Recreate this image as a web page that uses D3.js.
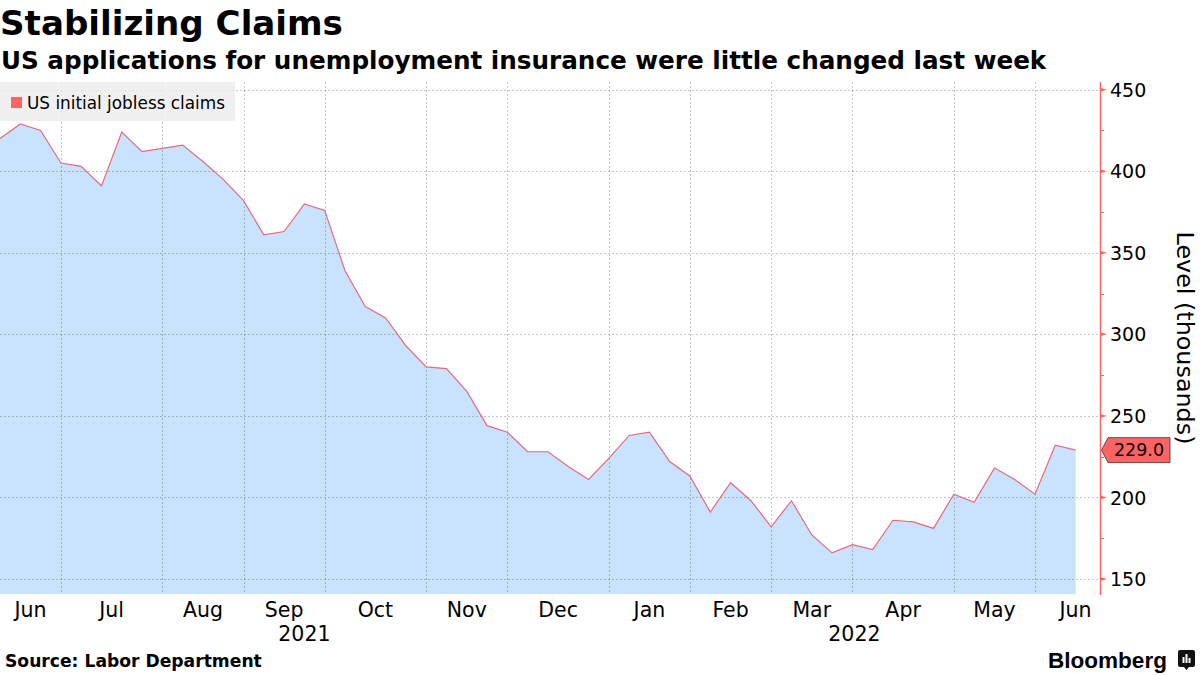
<!DOCTYPE html>
<html><head><meta charset="utf-8">
<script src="https://cdn.jsdelivr.net/npm/d3@7"></script>
<style>
body{margin:0;background:#fff}
svg{display:block}
text{font-family:"DejaVu Sans",sans-serif;fill:#000}
</style>
</head><body>
<svg id="c" width="1200" height="675"></svg>
<script>
// ---- data ----
const titleText = "Stabilizing Claims";
const subtitleText = "US applications for unemployment insurance were little changed last week";
const seriesName = "US initial jobless claims";
const sourceText = "Source: Labor Department";
const axisTitle = "Level (thousands)";
const firstWeek = "2021-06-11";
const lastWeek = "2022-06-17";
// weekly initial claims, thousands
const claims = [420,429,425,405,403,391,424,412,414,416,
                406,395,382,361,363,380,376,339,317,310,
                293,280,279,265,244,240,228,228,219,211,
                224,238,240,222,213,191,209,198,182,198,
                177,166,171,168,186,185,181,202,197,218,
                211,202,232,229];
const monthStarts = ["2021-06-04","2021-07-02","2021-08-06","2021-09-03","2021-10-01","2021-11-05",
                     "2021-12-03","2022-01-07","2022-02-04","2022-03-04","2022-04-01","2022-05-06",
                     "2022-06-03","2022-07-01"];
const yearStarts = ["2021-01-01","2022-01-07"];
const yearLabels = ["2021","2022"];
const yTicks = [150,200,250,300,350,400,450];
const yMinorTicks = [175,225,275,325,375,425];

// ---- setup ----
const parse = d3.timeParse("%Y-%m-%d");
const weeks = d3.timeFriday.range(parse(firstWeek), d3.timeDay.offset(parse(lastWeek), 1));
const data = weeks.map((d, i) => ({date: d, value: claims[i]}));
const months = monthStarts.map(parse);

const svg = d3.select("#c");
const plotL = 0, plotR = 1100, plotT = 82, plotB = 594;
const x = d3.scaleTime().domain([parse(firstWeek), parse(lastWeek)]).range([0, 1075.6]);
const y = d3.scaleLinear().domain([140.8, 454.7]).range([plotB, plotT]);

const RED = "#ff6464";

function fit(sel, target) {
  const n = sel.node();
  const fs = parseFloat(sel.attr("font-size"));
  const w = n.getComputedTextLength();
  sel.attr("font-size", (fs * target / w).toFixed(2));
}

// area
svg.append("path").datum(data)
  .attr("fill", "#c9e2fd")
  .attr("d", d3.area().x(d => x(d.date)).y0(plotB).y1(d => y(d.value)));

// grid
const grid = svg.append("g").attr("stroke", "rgba(0,0,0,0.22)").attr("stroke-dasharray", "2,2").attr("stroke-width", 1);
grid.selectAll("line.h").data(yTicks).join("line")
  .attr("x1", plotL).attr("x2", plotR)
  .attr("y1", d => Math.round(y(d)) + 0.5).attr("y2", d => Math.round(y(d)) + 0.5);
const gridMonths = months.filter(m => m >= x.domain()[0] && m <= x.domain()[1]);
grid.selectAll("line.v").data(gridMonths).join("line")
  .attr("x1", d => Math.round(x(d)) + 0.5).attr("x2", d => Math.round(x(d)) + 0.5)
  .attr("y1", plotT).attr("y2", plotB);

// line
svg.append("path").datum(data)
  .attr("fill", "none").attr("stroke", "#e8697b").attr("stroke-width", 1.2)
  .attr("d", d3.line().x(d => x(d.date)).y(d => y(d.value)));

// legend
svg.append("rect").attr("x", 0).attr("y", 82).attr("width", 235).attr("height", 39)
  .attr("fill", "rgba(236,236,236,0.8)");
svg.append("rect").attr("x", 11).attr("y", 97).attr("width", 11).attr("height", 11).attr("fill", RED);
const lg = svg.append("text").attr("x", 27).attr("y", 108.5).attr("font-size", 16.5).attr("fill", "#222").text(seriesName);
fit(lg, 198);

// right axis
const yAxis = d3.axisRight(y).tickValues(yTicks).tickSize(0).tickPadding(10).tickFormat(d3.format("d"));
const ga = svg.append("g").attr("transform", `translate(${plotR},0)`).call(yAxis);
ga.select(".domain").remove();
ga.selectAll("text").attr("font-size", 19).attr("font-family", '"DejaVu Sans",sans-serif').attr("fill", "#000").attr("dy", "0.35em");
svg.append("line").attr("x1", plotR + 0.5).attr("x2", plotR + 0.5).attr("y1", plotT).attr("y2", plotB + 1)
  .attr("stroke", RED).attr("stroke-width", 1.5);
svg.append("g").selectAll("path").data(yTicks).join("path")
  .attr("fill", RED)
  .attr("d", d => { const yy = y(d); return `M${plotR},${yy - 2}L${plotR + 7},${yy}L${plotR},${yy + 2}Z`; });
svg.append("g").selectAll("line").data(yMinorTicks).join("line")
  .attr("stroke", RED).attr("stroke-width", 1)
  .attr("x1", plotR).attr("x2", plotR + 4)
  .attr("y1", d => Math.round(y(d)) + 0.5).attr("y2", d => Math.round(y(d)) + 0.5);

// axis title
const at = svg.append("text").attr("font-size", 23).attr("text-anchor", "middle")
  .attr("transform", `translate(1177,338) rotate(90)`).text(axisTitle);
fit(at, 213);

// last value tag
const last = data[data.length - 1];
const ty = y(last.value);
svg.append("path")
  .attr("d", `M${plotR + 1.5},${ty}L${plotR + 8},${ty - 12.5}L1170,${ty - 12.5}L1170,${ty + 12.5}L${plotR + 8},${ty + 12.5}Z`)
  .attr("fill", RED).attr("stroke", "#333").attr("stroke-width", 0.8);
svg.append("text").attr("x", 1139).attr("y", ty).attr("dy", "0.36em").attr("text-anchor", "middle")
  .attr("font-size", 17.5).text(d3.format(".1f")(last.value));

// x month labels
const fmtMonth = d3.timeFormat("%b");
const labelMonths = months.slice(0, -1).map((m, i) => ({
  name: fmtMonth(m),
  cx: (Math.max(0, x(m)) + x(months[i + 1])) / 2
}));
svg.append("g").selectAll("text").data(labelMonths).join("text")
  .attr("x", d => d.cx).attr("y", 617).attr("text-anchor", "middle").attr("font-size", 20.5)
  .text(d => d.name);
const yr = yearStarts.map(parse);
svg.append("g").selectAll("text").data(yearLabels).join("text")
  .attr("x", (d, i) => (Math.max(0, x(yr[i])) + (i + 1 < yr.length ? x(yr[i + 1]) : plotR)) / 2)
  .attr("y", 641).attr("text-anchor", "middle").attr("font-size", 20.5)
  .text(d => d);

// titles
const t1 = svg.append("text").attr("x", 0).attr("y", 35).attr("font-size", 34).attr("font-weight", "bold").text(titleText);
fit(t1, 343);
const t2 = svg.append("text").attr("x", 1).attr("y", 69).attr("font-size", 24).attr("font-weight", "bold").text(subtitleText);
fit(t2, 1046);

// footer
const src = svg.append("text").attr("x", 5).attr("y", 667).attr("font-size", 16).attr("font-weight", "bold").text(sourceText);
fit(src, 257);
const bb = svg.append("text").attr("x", 1048).attr("y", 668).attr("font-size", 22)
  .attr("font-family", '"Liberation Sans",Arial,sans-serif').attr("font-weight", "bold")
  .style("font-family", '"Liberation Sans",Arial,sans-serif').text("Bloomberg");
fit(bb, 119);
const ic = svg.append("g").attr("transform", "translate(1178,650)");
ic.append("path").attr("d", "M2,0H15A2,2 0 0 1 17,2V15A2,2 0 0 1 15,17H11L8.5,20L6,17H2A2,2 0 0 1 0,15V2A2,2 0 0 1 2,0Z").attr("fill", "#111");
[[4.5,7,3],[7.5,4,3],[10.5,8,3]].forEach(([bx,by,w]) =>
  ic.append("rect").attr("x", bx).attr("y", by).attr("width", 2).attr("height", 13 - by).attr("fill", "#fff"));
</script>
</body></html>
